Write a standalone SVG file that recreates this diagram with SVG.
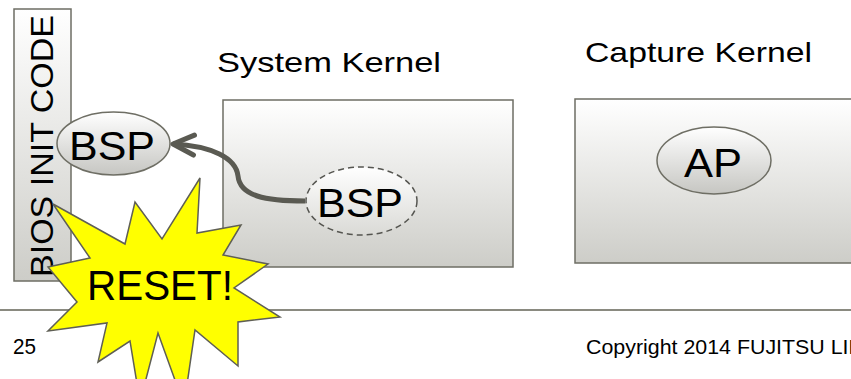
<svg xmlns="http://www.w3.org/2000/svg" width="851" height="379" viewBox="0 0 851 379">
<defs>
<linearGradient id="boxGrad" x1="0" y1="0" x2="0" y2="1">
<stop offset="0" stop-color="#ffffff"/>
<stop offset="1" stop-color="#cdcdc8"/>
</linearGradient>
<linearGradient id="ellGrad" x1="0" y1="0" x2="0" y2="1">
<stop offset="0" stop-color="#ffffff"/>
<stop offset="1" stop-color="#c6c6c2"/>
</linearGradient>
<linearGradient id="ellGradLight" x1="0" y1="0" x2="0" y2="1">
<stop offset="0" stop-color="#ffffff"/>
<stop offset="1" stop-color="#dadad6"/>
</linearGradient>
<marker id="chev" markerUnits="userSpaceOnUse" markerWidth="40" markerHeight="40" viewBox="-30 -20 40 40" refX="0" refY="0" orient="auto" overflow="visible">
<path d="M-21,-10 L0,0 L-21,10" fill="none" stroke="#5a5a52" stroke-width="5" stroke-linecap="round" stroke-linejoin="round"/>
</marker>
</defs>
<style>
.box{fill:url(#boxGrad);stroke:#6e6e64;stroke-width:1.5}
.ell{fill:url(#ellGrad);stroke:#6e6e64;stroke-width:1.5}
.lbl{font-family:"Liberation Sans",Arial,sans-serif;fill:#000}
.big{font-size:41px;text-anchor:middle}
.title{font-size:28px}
.foot{font-size:21px}
</style>

<g id="bios">
<rect class="box" x="14" y="9" width="57" height="272"/>
<text class="lbl" transform="translate(53,277) rotate(-90)" font-size="32" textLength="262" lengthAdjust="spacingAndGlyphs">BIOS INIT CODE</text>
</g>

<g id="bsp-bios">
<ellipse class="ell" cx="113.5" cy="143.5" rx="56.5" ry="31.5"/>
<text class="lbl big" x="112" y="160" textLength="86" lengthAdjust="spacingAndGlyphs">BSP</text>
</g>

<g id="system-kernel">
<text class="lbl title" x="217" y="72" textLength="224" lengthAdjust="spacingAndGlyphs">System Kernel</text>
<rect class="box" x="223" y="100" width="290" height="167"/>
</g>

<g id="capture-kernel">
<text class="lbl title" x="585" y="62" textLength="227" lengthAdjust="spacingAndGlyphs">Capture Kernel</text>
<rect class="box" x="575" y="99" width="300" height="164"/>
</g>

<g id="ap">
<ellipse class="ell" cx="714" cy="160.5" rx="57" ry="33.5"/>
<text class="lbl big" x="713" y="177" textLength="58" lengthAdjust="spacingAndGlyphs">AP</text>
</g>

<g id="connectors">
<path d="M305,201 C265,201 240,196 238,176 C236,158 212,146 173,144" fill="none" stroke="#5a5a52" stroke-width="5" stroke-linecap="butt" marker-end="url(#chev)"/>
</g>

<g id="bsp-kernel">
<ellipse cx="361.5" cy="201" rx="55.5" ry="34" fill="url(#ellGradLight)" stroke="#555550" stroke-width="1.5" stroke-dasharray="6,4"/>
<text class="lbl big" x="360" y="217" textLength="86" lengthAdjust="spacingAndGlyphs">BSP</text>
</g>

<g id="footer">
<line x1="0" y1="310" x2="851" y2="310" stroke="#8a8a80" stroke-width="2"/>
<text class="lbl" x="13" y="354" font-size="22" textLength="23" lengthAdjust="spacingAndGlyphs">25</text>
<text class="lbl foot" x="586" y="354" textLength="329" lengthAdjust="spacingAndGlyphs">Copyright 2014 FUJITSU LIMITED</text>
</g>

<g id="reset">
<polygon points="53,204 125,244 135,202 162,239 200,178 197,233 241,225 223,255 268,264 234,288 280,317 238,322 238,366 195,330 184,405 158,333 140,402 130,341 98,362 107,323 48,331 77,302 48,267 90,258" fill="#ffff00" stroke="#5f5f55" stroke-width="1.5" stroke-linejoin="miter"/>
<text class="lbl" x="87" y="300" font-size="42" textLength="146" lengthAdjust="spacingAndGlyphs">RESET!</text>
</g>
</svg>
